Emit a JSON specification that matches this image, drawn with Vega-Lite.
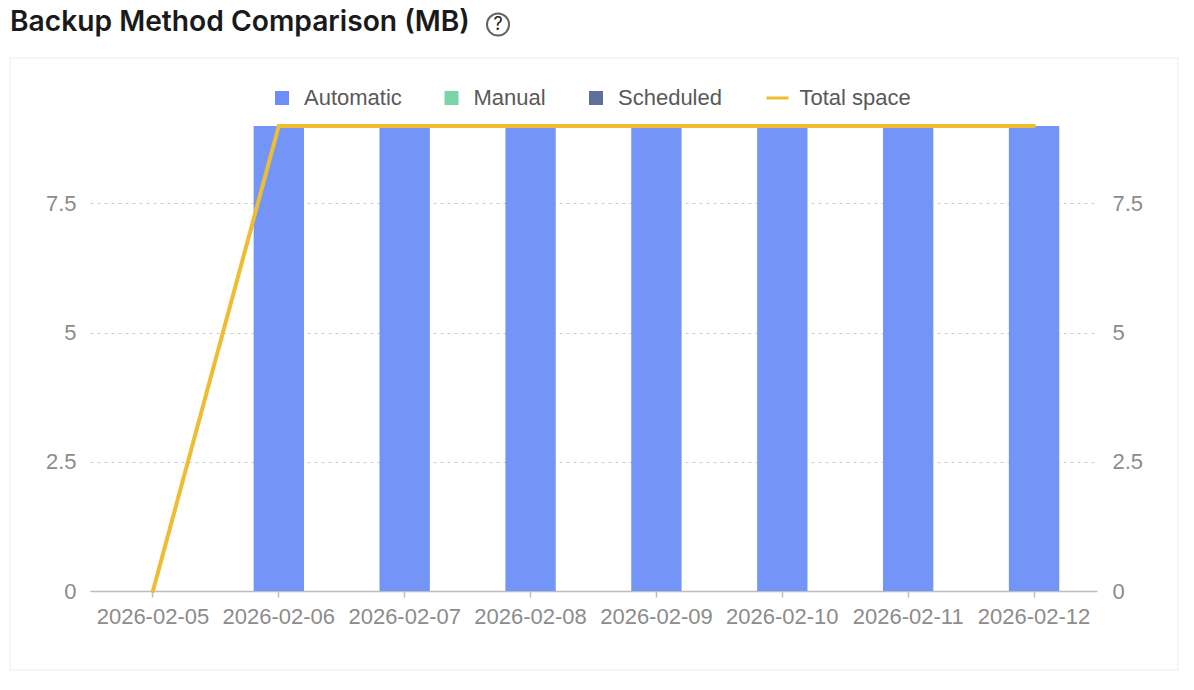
{
"$schema":"https://vega.github.io/schema/vega-lite/v6.json",
"width":1007,"height":465,
"autosize":{"type":"none"},
"padding":{"left":90,"top":126,"right":97,"bottom":99},
"background":"#ffffff",
"title":{"text":"Backup Method Comparison (MB)","anchor":"start","frame":"group","dx":-80,"offset":-50,"font":"Inter","fontSize":28.2,"fontWeight":600,"color":"#1a1a1a","baseline":"alphabetic"},
"config":{"view":{"stroke":null},"font":"Liberation Sans"},
"resolve":{"scale":{"x":"independent"},"axis":{"y":"independent","x":"independent"}},
"layer":[
{"data":{"values":[{"x0":-0.0794,"x1":1.0804,"y0":-1.529,"y1":10.316}]},
 "mark":{"type":"rect","fill":null,"stroke":"#ebebeb","strokeWidth":1},
 "encoding":{
  "x":{"field":"x0","type":"quantitative","axis":null,"scale":{"domain":[0,1],"nice":false,"zero":false}},
  "x2":{"field":"x1"},
  "y":{"field":"y0","type":"quantitative","axis":null,"scale":{"domain":[0,9],"nice":false}},
  "y2":{"field":"y1"}}},
{"data":{"values":[{"x":0.4052,"y":10.964}]},
 "mark":{"type":"point","shape":"circle","size":490,"filled":false,"stroke":"#222222","strokeWidth":2},
 "encoding":{
  "x":{"field":"x","type":"quantitative","axis":null,"scale":{"domain":[0,1],"nice":false,"zero":false}},
  "y":{"field":"y","type":"quantitative","axis":null,"scale":{"domain":[0,9],"nice":false}}}},
{"data":{"values":[{"x":0.4052,"y":10.964,"t":"?"}]},
 "mark":{"type":"text","font":"Inter","fontSize":18,"fontWeight":400,"color":"#222222","baseline":"middle","align":"center"},
 "encoding":{
  "text":{"field":"t"},
  "x":{"field":"x","type":"quantitative","axis":null,"scale":{"domain":[0,1],"nice":false,"zero":false}},
  "y":{"field":"y","type":"quantitative","axis":null,"scale":{"domain":[0,9],"nice":false}}}},
{"data":{"name":"rows","values":[
{"date":"2026-02-05","method":"Automatic","value":0},{"date":"2026-02-06","method":"Automatic","value":9},{"date":"2026-02-07","method":"Automatic","value":9},{"date":"2026-02-08","method":"Automatic","value":9},{"date":"2026-02-09","method":"Automatic","value":9},{"date":"2026-02-10","method":"Automatic","value":9},{"date":"2026-02-11","method":"Automatic","value":9},{"date":"2026-02-12","method":"Automatic","value":9},
{"date":"2026-02-05","method":"Manual","value":0},{"date":"2026-02-06","method":"Manual","value":0},{"date":"2026-02-07","method":"Manual","value":0},{"date":"2026-02-08","method":"Manual","value":0},{"date":"2026-02-09","method":"Manual","value":0},{"date":"2026-02-10","method":"Manual","value":0},{"date":"2026-02-11","method":"Manual","value":0},{"date":"2026-02-12","method":"Manual","value":0},
{"date":"2026-02-05","method":"Scheduled","value":0},{"date":"2026-02-06","method":"Scheduled","value":0},{"date":"2026-02-07","method":"Scheduled","value":0},{"date":"2026-02-08","method":"Scheduled","value":0},{"date":"2026-02-09","method":"Scheduled","value":0},{"date":"2026-02-10","method":"Scheduled","value":0},{"date":"2026-02-11","method":"Scheduled","value":0},{"date":"2026-02-12","method":"Scheduled","value":0},
{"date":"2026-02-05","method":"Total space","value":0},{"date":"2026-02-06","method":"Total space","value":9},{"date":"2026-02-07","method":"Total space","value":9},{"date":"2026-02-08","method":"Total space","value":9},{"date":"2026-02-09","method":"Total space","value":9},{"date":"2026-02-10","method":"Total space","value":9},{"date":"2026-02-11","method":"Total space","value":9},{"date":"2026-02-12","method":"Total space","value":9}
]},
 "transform":[{"filter":"datum.method !== 'Total space'"}],
 "mark":{"type":"bar","opacity":0.94,"width":{"band":1}},
 "encoding":{
  "x":{"field":"date","type":"ordinal","sort":null,"scale":{"paddingInner":0.6,"paddingOuter":0.3},
   "axis":{"title":null,"labelAngle":0,"grid":false,"labelFont":"Liberation Sans","labelFontSize":22,"labelColor":"#8c8c8c","labelPadding":9,"tickColor":"#bdbdbd","tickSize":6,"tickWidth":1.5,"domainColor":"#bdbdbd","domainWidth":1.5,"labelOverlap":false,"labelSeparation":0}},
  "y":{"field":"value","type":"quantitative","stack":"zero","scale":{"domain":[0,9],"nice":false},
   "axis":{"title":null,"orient":"left","values":[0,2.5,5,7.5],"format":".2~g","domain":false,"ticks":false,"labelFont":"Liberation Sans","labelFontSize":22,"labelColor":"#8c8c8c","labelPadding":14,"grid":true,"gridColor":"#cccccc","gridDash":[3,4],"gridWidth":1}},
  "color":{"field":"method","type":"nominal","sort":null,
   "scale":{"domain":["Automatic","Manual","Scheduled","Total space"],"range":["#6b8ef8","#7bd4a8","#5f6f99","#eebd31"]},
   "legend":{"title":null,"orient":"none","legendX":181,"legendY":-39,"direction":"horizontal","columns":4,"gridAlign":"each","columnPadding":38.5,"labelFont":"Liberation Sans","labelFontSize":22,"labelColor":"#595959","labelOffset":11,"symbolSize":196,"symbolType":"square","symbolOpacity":1,
    "encode":{"symbols":{"update":{"shape":{"signal":"datum.value === 'Total space' ? 'stroke' : 'square'"},"size":{"signal":"datum.value === 'Total space' ? 484 : 196"},"strokeWidth":{"signal":"datum.value === 'Total space' ? 3 : 0"},"stroke":{"signal":"scale('color', datum.value)"},"fill":{"signal":"scale('color', datum.value)"},"opacity":{"value":1}}}}}}}},
{"data":{"name":"rows"},
 "transform":[{"filter":"datum.method === 'Total space'"}],
 "mark":{"type":"line","strokeWidth":4,"strokeCap":"round"},
 "encoding":{
  "x":{"field":"date","type":"ordinal","sort":null,"axis":null,"scale":{"paddingInner":0.6,"paddingOuter":0.3}},
  "y":{"field":"value","type":"quantitative","scale":{"domain":[0,9],"nice":false},
   "axis":{"title":null,"orient":"right","values":[0,2.5,5,7.5],"format":".2~g","domain":false,"ticks":false,"grid":false,"labelFont":"Liberation Sans","labelFontSize":22,"labelColor":"#8c8c8c","labelPadding":15}},
  "color":{"field":"method","type":"nominal","sort":null}}}
]
}
